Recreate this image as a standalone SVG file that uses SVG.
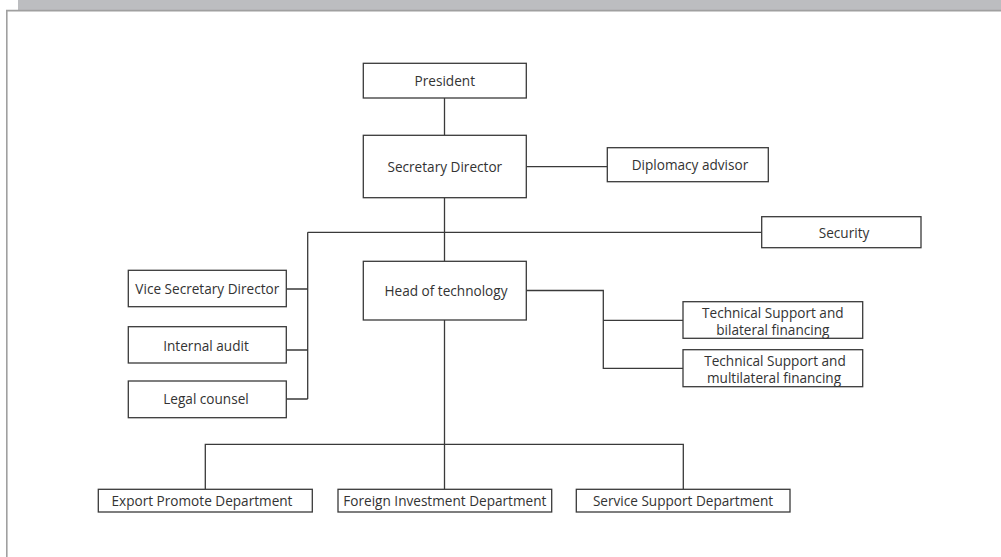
<svg xmlns="http://www.w3.org/2000/svg" width="1001" height="557" viewBox="0 0 1001 557">
<style>
.box{fill:#fff;stroke:#3a3a3a;stroke-width:1.3}
.ln{fill:none;stroke:#3a3a3a;stroke-width:1.3}
text{font-family:"Open Sans","Noto Sans",sans-serif;font-size:13.6px;fill:#333;text-anchor:middle}
</style>
<rect x="0" y="0" width="1001" height="557" fill="#fff"/>
<rect x="18" y="0" width="983" height="10" fill="#bcbdc0"/>
<path d="M6.8 557 V10.6 H1001" fill="none" stroke="#a0a0a0" stroke-width="1.6"/>
<g id="connectors">
<path class="ln" d="M444.5 98 V135.3"/>
<path class="ln" d="M526.3 166.7 H607.3"/>
<path class="ln" d="M444.5 197.7 V261.3"/>
<path class="ln" d="M307.7 232.3 H761.7"/>
<path class="ln" d="M307.7 232.3 V399 M286.3 289 H307.7 M286.3 350 H307.7 M286.3 399 H307.7"/>
<path class="ln" d="M526.3 290.5 H603.3 V368.3 H683 M603.3 320.3 H683"/>
<path class="ln" d="M444.5 320 V489.3"/>
<path class="ln" d="M205.3 489.3 V444.3 H683.3 V489.3"/>
</g>
<g id="president"><rect class="box" x="363.3" y="63.3" width="163" height="34.7"/><text x="444.8" y="85.5">President</text></g>
<g id="secretary-director"><rect class="box" x="363.3" y="135.3" width="163" height="62.4"/><text x="444.8" y="171.5">Secretary Director</text></g>
<g id="diplomacy-advisor"><rect class="box" x="607.3" y="147.7" width="161" height="34"/><text x="690" y="169.5">Diplomacy advisor</text></g>
<g id="security"><rect class="box" x="761.7" y="216.7" width="159.3" height="31"/><text x="844" y="237.5">Security</text></g>
<g id="vice-secretary-director"><rect class="box" x="128.3" y="270.3" width="158" height="36.4"/><text x="207.3" y="293.5">Vice Secretary Director</text></g>
<g id="internal-audit"><rect class="box" x="128.3" y="326.7" width="158" height="36.3"/><text x="206" y="350.5">Internal audit</text></g>
<g id="legal-counsel"><rect class="box" x="128.3" y="381" width="158" height="36.7"/><text x="206" y="403.5">Legal counsel</text></g>
<g id="head-of-technology"><rect class="box" x="363.3" y="261.3" width="163" height="58.7"/><text x="446" y="295.5">Head of technology</text></g>
<g id="tech-bilateral"><rect class="box" x="683" y="301.7" width="179.7" height="36.6"/><text x="772.8" y="317.5">Technical Support and</text><text x="772.8" y="334.5">bilateral financing</text></g>
<g id="tech-multilateral"><rect class="box" x="683" y="349.7" width="179.7" height="37"/><text x="775" y="365.5">Technical Support and</text><text x="774" y="382.5">multilateral financing</text></g>
<g id="export-promote"><rect class="box" x="98.3" y="489.3" width="214" height="22.7"/><text x="202" y="505.5">Export Promote Department</text></g>
<g id="foreign-investment"><rect class="box" x="338" y="489.3" width="213.7" height="22.7"/><text x="444.8" y="505.5">Foreign Investment Department</text></g>
<g id="service-support"><rect class="box" x="576.3" y="489.3" width="213.7" height="22.7"/><text x="683" y="505.5">Service Support Department</text></g>
</svg>
